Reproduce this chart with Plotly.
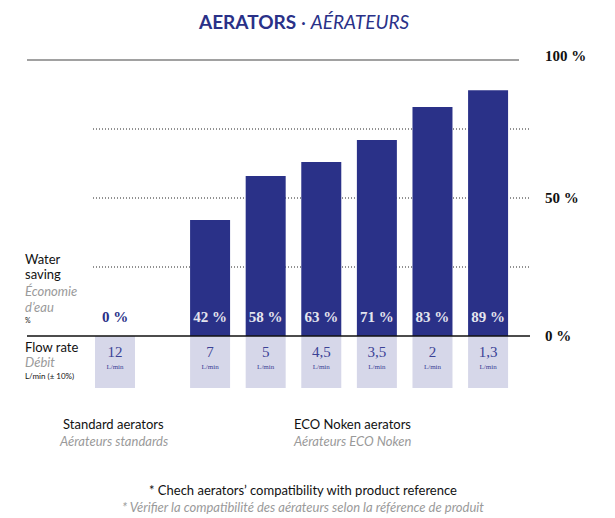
import plotly.graph_objects as go

# ---- data ----
categories = ["Standard", "ECO 1", "ECO 2", "ECO 3", "ECO 4", "ECO 5", "ECO 6"]
water_saving = [0, 42, 58, 63, 71, 83, 89]          # %
flow_rate = ["12", "7", "5", "4,5", "3,5", "2", "1,3"]  # L/min
y_tick_vals = [0, 50, 100]
y_tick_text = ["0 %", "50 %", "100 %"]

# ---- layout helpers (page pixels; page body has an 8px margin) ----
OFF = 8
W, H = 615 - OFF, 518 - OFF
PX_X = 55.6          # px per slot
X0_PX = 115 - OFF    # px of first column centre (figure coords)
Y0_PX, Y100_PX = 336 - OFF, 60 - OFF
PX_Y = (Y0_PX - Y100_PX) / 100.0

xpos = [0.0] + [1.71 + i for i in range(len(categories) - 1)]
xr = [-X0_PX / PX_X, (W - X0_PX) / PX_X]
yr = [-(H - Y0_PX) / PX_Y, Y0_PX / PX_Y]

def px_y(p):  # page pixel -> data y
    return (Y0_PX - (p - OFF)) / PX_Y

def px_x(p):
    return ((p - OFF) - X0_PX) / PX_X

DARK = "#2a3188"
LIGHT = "#d6d7e9"
BLUE_TXT = "#3b4296"
GRAY = "#9a9a9a"
SERIF = "Liberation Serif"
SANS = "Lato"

fig = go.Figure()

box_depth = px_y(388)
fig.add_trace(go.Bar(x=xpos, y=[box_depth] * len(xpos), base=0, width=40 / PX_X,
                     marker=dict(color=LIGHT, line=dict(width=0)), hoverinfo="skip"))
fig.add_trace(go.Bar(x=xpos, y=water_saving, width=40 / PX_X,
                     marker=dict(color=DARK, line=dict(width=0)), hoverinfo="skip"))

fig.add_trace(go.Scatter(
    x=xpos, y=[px_y(318)] * len(xpos), mode="text",
    text=[f"{v} %" for v in water_saving],
    textfont=dict(family=SERIF, size=15, weight="bold",
                  color=[DARK if v == 0 else "#e4e4ee" for v in water_saving]),
    hoverinfo="skip"))
fig.add_trace(go.Scatter(
    x=xpos, y=[px_y(353)] * len(xpos), mode="text", text=flow_rate,
    textfont=dict(family=SERIF, size=15, color=BLUE_TXT), hoverinfo="skip"))
fig.add_trace(go.Scatter(
    x=xpos, y=[px_y(367)] * len(xpos), mode="text", text=["L/min"] * len(xpos),
    textfont=dict(family=SERIF, size=7, color=BLUE_TXT), hoverinfo="skip"))

shapes = []
shapes.append(dict(type="line", x0=px_x(27), x1=px_x(519), y0=100, y1=100,
                   line=dict(color="#444444", width=1.2), layer="below"))
for v in [25, 50, 75]:
    shapes.append(dict(type="line", x0=px_x(93), x1=px_x(531), y0=v, y1=v,
                       line=dict(color="#222222", width=1, dash="1px,2px"), layer="below"))
shapes.append(dict(type="line", x0=px_x(27), x1=px_x(530), y0=0, y1=0,
                   line=dict(color="#111111", width=1.6), layer="above"))

ann = []
for v, t in zip(y_tick_vals, y_tick_text):
    ann.append(dict(x=px_x(543), y=v + (1.5 if v == 100 else 0), text=t, xanchor="left", yanchor="middle",
                    showarrow=False, font=dict(family=SERIF, size=15, weight="bold", color="#111111")))

def txt(xp, yp, text, size=13, color="#111111", italic=False, anchor="left", family=SANS, weight="normal"):
    ann.append(dict(x=px_x(xp), y=px_y(yp), text=text, xanchor=anchor, yanchor="middle",
                    showarrow=False,
                    font=dict(family=family, size=size, color=color,
                              style="italic" if italic else "normal", weight=weight)))

txt(304, 21, "<b>AERATORS</b> · <i>AÉRATEURS</i>", size=19, color=DARK, anchor="center")
txt(23, 259, "Water")
txt(23, 274, "saving")
txt(23, 291, "Économie", color=GRAY, italic=True)
txt(23, 307, "d’eau", color=GRAY, italic=True)
txt(23, 320, "%", 7)
txt(23, 347, "Flow rate")
txt(23, 362, "Débit", color=GRAY, italic=True)
txt(23, 376, "L/min (± 10%)", 8)
txt(113, 424, "Standard aerators")
ann[-1]["xanchor"] = "center"
txt(113, 441, "Aérateurs standards", color=GRAY, italic=True, anchor="center")
txt(352, 424, "ECO Noken aerators", anchor="center")
txt(352, 441, "Aérateurs ECO Noken", color=GRAY, italic=True, anchor="center")
txt(303, 490, "* Chech aerators’ compatibility with product reference", anchor="center")
txt(303, 507, "* Vérifier la compatibilité des aérateurs selon la référence de produit", color=GRAY, italic=True, anchor="center")

fig.update_layout(
    width=W, height=H, margin=dict(l=0, r=0, t=0, b=0),
    plot_bgcolor="white", paper_bgcolor="white",
    barmode="overlay", showlegend=False,
    xaxis=dict(range=xr, visible=False, fixedrange=True),
    yaxis=dict(range=yr, visible=False, fixedrange=True),
    shapes=shapes, annotations=ann,
)

fig.write_html("out.html", config={"displayModeBar": False})
